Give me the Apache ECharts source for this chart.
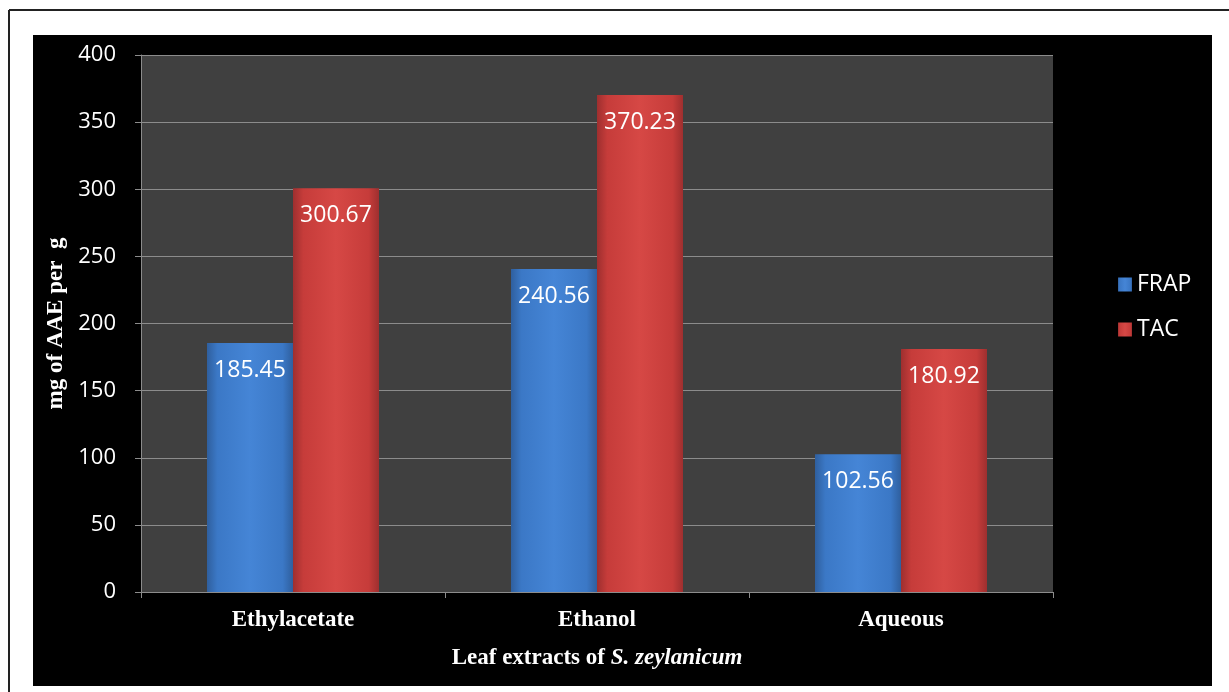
<!DOCTYPE html>
<html>
<head>
<meta charset="utf-8">
<script src="https://cdn.jsdelivr.net/npm/echarts@6/dist/echarts.min.js"></script>
<style>
  html, body { margin: 0; padding: 0; background: #fff; }
  #main { width: 1229px; height: 692px; }
</style>
</head>
<body>
<div id="main"></div>
<script>
// 数据
var categories = ['Ethylacetate', 'Ethanol', 'Aqueous'];
var frapValues = [185.45, 240.56, 102.56];
var tacValues = [300.67, 370.23, 180.92];
var seriesNames = ['FRAP', 'TAC'];

var myChart = echarts.init(document.getElementById('main'));

// 横向渐变，模拟立体柱子
function barColor(dark, mid, light) {
    return new echarts.graphic.LinearGradient(0, 0, 1, 0, [
        { offset: 0, color: dark },
        { offset: 0.12, color: mid },
        { offset: 0.5, color: light },
        { offset: 0.88, color: mid },
        { offset: 1, color: dark }
    ]);
}

var labelStyle = {
    show: true,
    position: 'insideTop',
    distance: 16,
    color: '#fff',
    fontSize: 23,
    fontFamily: 'Open Sans, Lato, sans-serif',
    formatter: function (p) { return p.value.toFixed(2); }
};

var option = {
    backgroundColor: '#fff',
    animation: false,
    graphic: [
        { type: 'rect', shape: { x: 33, y: 35, width: 1179, height: 651 }, style: { fill: '#000' }, z: -10 },
        { type: 'line', shape: { x1: 9, y1: 10, x2: 1229, y2: 10 }, style: { stroke: '#222', lineWidth: 2 } },
        { type: 'line', shape: { x1: 9, y1: 10, x2: 9, y2: 692 }, style: { stroke: '#222', lineWidth: 2 } }
    ],
    grid: {
        left: 141, right: 176, top: 55, bottom: 100,
        show: true, backgroundColor: '#404040', borderWidth: 0
    },
    legend: {
        orient: 'vertical',
        left: 1113,
        top: 268,
        itemWidth: 14,
        itemHeight: 14,
        itemGap: 22,
        icon: 'rect',
        textStyle: { color: '#fff', fontSize: 23, fontFamily: 'Open Sans, Lato, sans-serif' },
        data: seriesNames
    },
    xAxis: {
        type: 'category',
        data: categories,
        name: '{n|Leaf extracts of }{i|S. zeylanicum}',
        nameLocation: 'middle',
        nameGap: 55,
        nameTextStyle: {
            rich: {
                n: { color: '#fff', fontSize: 23, fontWeight: 'bold', fontFamily: 'Liberation Serif, serif' },
                i: { color: '#fff', fontSize: 23, fontWeight: 'bold', fontStyle: 'italic', fontFamily: 'Liberation Serif, serif' }
            }
        },
        axisLine: { lineStyle: { color: '#8c8c8c', width: 1 } },
        axisTick: { show: true, length: 6, lineStyle: { color: '#8c8c8c' } },
        axisLabel: {
            color: '#fff', fontSize: 23, fontWeight: 'bold', margin: 17,
            fontFamily: 'Liberation Serif, serif'
        }
    },
    yAxis: {
        type: 'value',
        min: 0, max: 400, interval: 50,
        name: 'mg of AAE per  g',
        nameLocation: 'middle',
        nameRotate: 90,
        nameGap: 71,
        nameTextStyle: { color: '#fff', fontSize: 23, fontWeight: 'bold', fontFamily: 'Liberation Serif, serif' },
        axisLine: { show: true, lineStyle: { color: '#8c8c8c', width: 1 } },
        axisTick: { show: true, length: 6, lineStyle: { color: '#8c8c8c' } },
        splitLine: { lineStyle: { color: '#8c8c8c', width: 1 } },
        axisLabel: {
            color: '#fff', fontSize: 22, margin: 25,
            fontFamily: 'Open Sans, Lato, sans-serif'
        }
    },
    series: [
        {
            name: seriesNames[0],
            type: 'bar',
            data: frapValues,
            barWidth: 86,
            barGap: '0%',
            itemStyle: { color: barColor('#2f5f9e', '#3b78c6', '#4585d6') },
            label: labelStyle
        },
        {
            name: seriesNames[1],
            type: 'bar',
            data: tacValues,
            barWidth: 86,
            barGap: '0%',
            itemStyle: { color: barColor('#9e2f2f', '#c63c3a', '#d64845') },
            label: labelStyle
        }
    ]
};

myChart.setOption(option);
</script>
</body>
</html>
